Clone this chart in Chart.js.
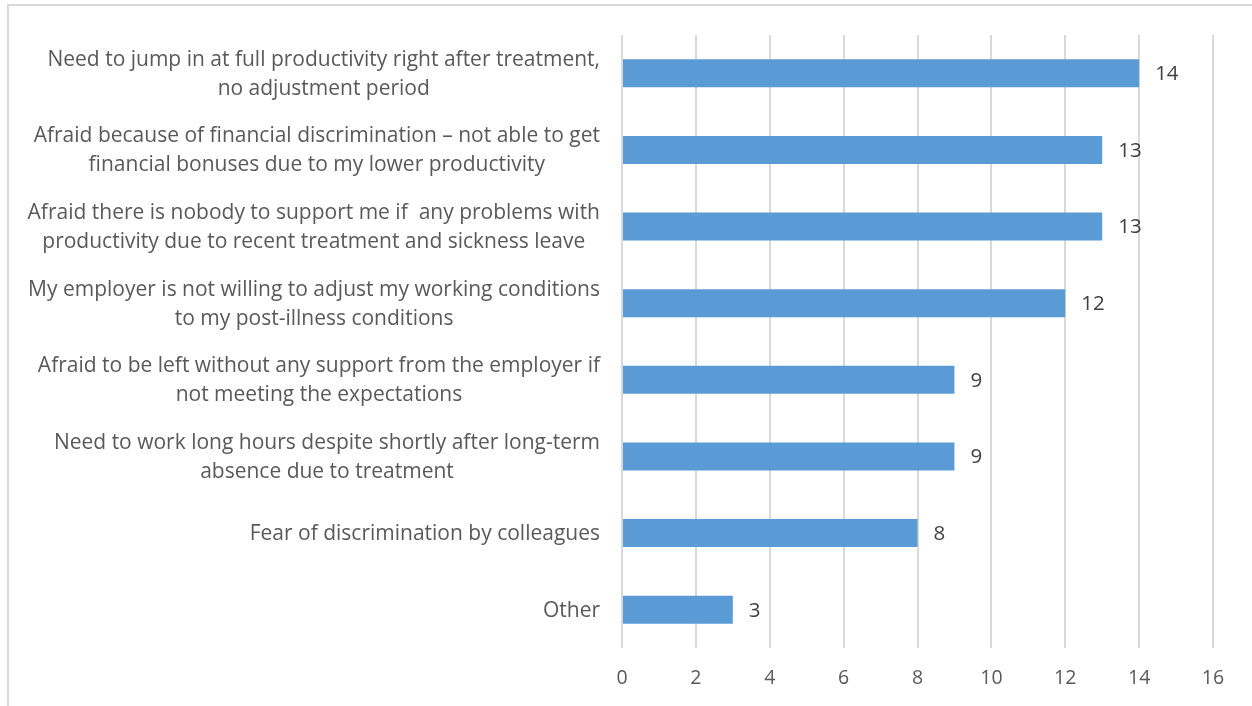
<!DOCTYPE html>
<html>
<head>
<meta charset="utf-8">
<script src="https://cdn.jsdelivr.net/npm/chart.js@4"></script>
<style>
  body { margin: 0; background: #fff; overflow: hidden; }
  #frame { position: absolute; left: 7px; top: 4px; width: 1300px; height: 800px; border: 2px solid #d9d9d9; }
  #wrap { position: absolute; left: 0; top: 0; width: 1252px; height: 706px; }
</style>
</head>
<body>
<div id="frame"></div>
<div id="wrap"><canvas id="myChart"></canvas></div>
<script>
const categories = [
    ['Need to jump in at full productivity right after treatment,', 'no adjustment period'],
    ['Afraid because of financial discrimination \u2013 not able to get', 'financial bonuses due to my lower productivity'],
    ['Afraid there is nobody to support me if  any problems with', 'productivity due to recent treatment and sickness leave'],
    ['My employer is not willing to adjust my working conditions', 'to my post-illness conditions'],
    ['Afraid to be left without any support from the employer if', 'not meeting the expectations'],
    ['Need to work long hours despite shortly after long-term', 'absence due to treatment'],
    ['Fear of discrimination by colleagues'],
    ['Other']
]
const counts = [14, 13, 13, 12, 9, 9, 8, 3]
const xTicks = [0, 2, 4, 6, 8, 10, 12, 14, 16]

const barColor = '#5b9bd5'
const textColor = '#595959'
const valueColor = '#404040'
const gridColor = '#d9d9d9'
const fontFamily = '"Open Sans", sans-serif'
const labelSize = 21
const tickSize = 19.5
const valueSize = 20.5

// y labels: each block right-aligned, lines centred inside the block
const blockLabels = {
    id: 'blockLabels',
    afterDraw(chart) {
        const ctx = chart.ctx
        const yScale = chart.scales.y
        ctx.save()
        ctx.font = labelSize + 'px ' + fontFamily
        ctx.fillStyle = textColor
        ctx.textAlign = 'center'
        ctx.textBaseline = 'middle'
        const lineH = 29
        const right = yScale.right - 22
        categories.forEach((lines, i) => {
            const widest = Math.max(...lines.map(l => ctx.measureText(l).width))
            const cx = right - widest / 2
            const cy = yScale.getPixelForValue(i) + 1
            lines.forEach((l, j) => {
                ctx.fillText(l, cx, cy + (j - (lines.length - 1) / 2) * lineH)
            })
        })
        ctx.restore()
    }
}

const valueLabels = {
    id: 'valueLabels',
    afterDatasetsDraw(chart) {
        const ctx = chart.ctx
        const meta = chart.getDatasetMeta(0)
        ctx.save()
        ctx.font = valueSize + 'px ' + fontFamily
        ctx.fillStyle = valueColor
        ctx.textAlign = 'left'
        ctx.textBaseline = 'middle'
        meta.data.forEach((bar, i) => {
            ctx.fillText(counts[i], bar.x + 16, bar.y + 1)
        })
        ctx.restore()
    }
}

new Chart(document.getElementById('myChart'), {
    type: 'bar',
    data: {
        labels: categories,
        datasets: [{
            data: counts,
            backgroundColor: barColor,
            borderWidth: 0,
            categoryPercentage: 1,
            barPercentage: 0.365
        }]
    },
    options: {
        indexAxis: 'y',
        responsive: true,
        maintainAspectRatio: false,
        animation: false,
        layout: { padding: { top: 35, right: 39, bottom: 0, left: 0 } },
        plugins: { legend: { display: false }, tooltip: { enabled: false } },
        scales: {
            x: {
                min: 0,
                max: 16,
                afterBuildTicks: axis => { axis.ticks = xTicks.map(v => ({ value: v })) },
                afterFit: axis => { axis.height = 58 },
                grid: { color: gridColor, lineWidth: 2, drawTicks: false },
                border: { display: false },
                ticks: { color: textColor, padding: 19, font: { family: fontFamily, size: tickSize } }
            },
            y: {
                afterFit: axis => { axis.width = 622 },
                grid: { display: false },
                border: { display: false },
                ticks: { color: 'transparent', font: { family: fontFamily, size: labelSize } }
            }
        }
    },
    plugins: [blockLabels, valueLabels]
});
</script>
</body>
</html>
